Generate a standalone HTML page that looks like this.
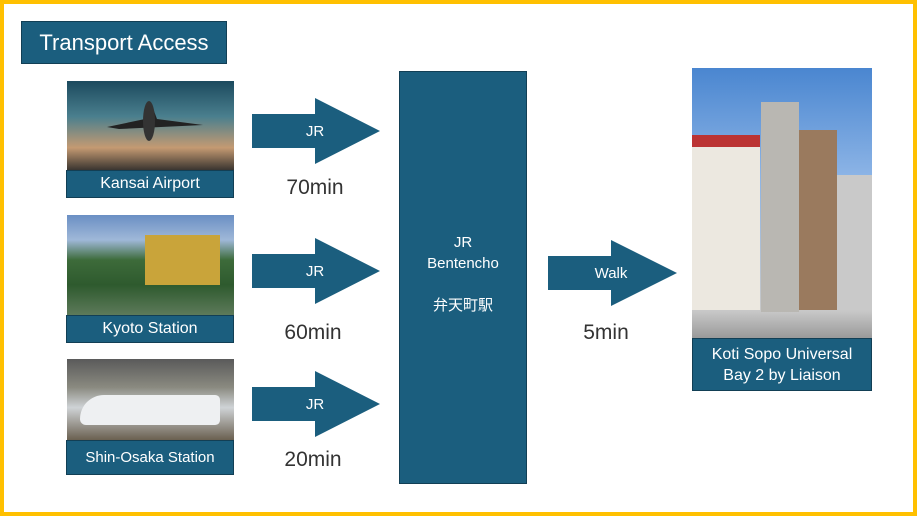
<!DOCTYPE html>
<html><head><meta charset="utf-8"><style>
*{margin:0;padding:0;box-sizing:border-box}
body{width:917px;height:516px;position:relative;background:#fff;font-family:"Liberation Sans","Noto Sans CJK JP",sans-serif;overflow:hidden}
.frame{position:absolute;left:0;top:0;width:917px;height:516px;border:4px solid #FFC000}
.b{position:absolute;background:#1b5e7e;color:#fff;display:flex;align-items:center;justify-content:center;text-align:center;border:1px solid #123f55}
.img{position:absolute}
.t{position:absolute;font-size:21px;color:#333;transform:translateX(-50%)}
svg{position:absolute}
</style></head><body>
<div class="frame"></div>
<div class="b" style="left:21px;top:21px;width:206px;height:43px;font-size:22px">Transport Access</div>

<div class="img" style="left:67px;top:81px;width:167px;height:89px;background:linear-gradient(180deg,#1c4a5e 0%,#4a7f8e 40%,#c49a72 75%,#3a3530 100%)"></div>
<svg style="left:67px;top:81px" width="167" height="89"><path d="M52 48 L136 44 L90 38 L84 22 L78 38 L40 46Z" fill="#222"/><ellipse cx="82" cy="40" rx="6" ry="20" fill="#333"/></svg>
<div class="b" style="left:66px;top:170px;width:168px;height:28px;font-size:16px">Kansai Airport</div>

<div class="img" style="left:67px;top:215px;width:167px;height:100px;background:linear-gradient(180deg,#6b8fc4 0%,#9fb8d8 25%,#3d6b3a 45%,#2e5a2e 70%,#5d7a5a 100%)"></div>
<div class="img" style="left:145px;top:235px;width:75px;height:50px;background:#c9a43a"></div>
<div class="b" style="left:66px;top:315px;width:168px;height:28px;font-size:16px">Kyoto Station</div>

<div class="img" style="left:67px;top:359px;width:167px;height:81px;background:linear-gradient(180deg,#5a5a5a 0%,#8a8a80 35%,#cfd3d6 60%,#6a6050 100%)"></div>
<div class="img" style="left:80px;top:395px;width:140px;height:30px;background:#eef0f2;border-radius:40px 8px 8px 10px"></div>
<div class="b" style="left:66px;top:440px;width:168px;height:35px;font-size:15px">Shin-Osaka Station</div>

<svg style="left:252px;top:98px" width="130" height="67"><polygon points="0,16 63,16 63,0 128,33 63,66 63,50 0,50" fill="#1b5e7e"/><text x="63" y="38" fill="#fff" font-size="15" text-anchor="middle" font-family="Liberation Sans">JR</text></svg>
<svg style="left:252px;top:238px" width="130" height="67"><polygon points="0,16 63,16 63,0 128,33 63,66 63,50 0,50" fill="#1b5e7e"/><text x="63" y="38" fill="#fff" font-size="15" text-anchor="middle" font-family="Liberation Sans">JR</text></svg>
<svg style="left:252px;top:371px" width="130" height="67"><polygon points="0,16 63,16 63,0 128,33 63,66 63,50 0,50" fill="#1b5e7e"/><text x="63" y="38" fill="#fff" font-size="15" text-anchor="middle" font-family="Liberation Sans">JR</text></svg>
<div class="t" style="left:315px;top:176px">70min</div>
<div class="t" style="left:313px;top:321px">60min</div>
<div class="t" style="left:313px;top:448px">20min</div>

<div class="b" style="left:399px;top:71px;width:128px;height:413px;display:block;font-size:15px;line-height:21px;padding-top:160px">JR<br>Bentencho<br><br>弁天町駅</div>

<svg style="left:548px;top:240px" width="131" height="67"><polygon points="0,16 63,16 63,0 129,33 63,66 63,50 0,50" fill="#1b5e7e"/><text x="63" y="38" fill="#fff" font-size="15" text-anchor="middle" font-family="Liberation Sans">Walk</text></svg>
<div class="t" style="left:606px;top:321px">5min</div>

<div class="img" style="left:692px;top:68px;width:180px;height:270px;background:linear-gradient(180deg,#4a86d0 0%,#8cb4e6 40%,#c8c8c8 90%,#9a9a9a 100%)"></div>
<div class="img" style="left:692px;top:135px;width:68px;height:175px;background:#ece8e0;border-top:12px solid #b33"></div>
<div class="img" style="left:761px;top:102px;width:38px;height:210px;background:#b9b7b2"></div>
<div class="img" style="left:799px;top:130px;width:38px;height:180px;background:#9a7a5e"></div>
<div class="img" style="left:837px;top:175px;width:35px;height:135px;background:#c9c9c9"></div>
<div class="b" style="left:692px;top:338px;width:180px;height:53px;font-size:16px;line-height:21px">Koti Sopo Universal<br>Bay 2 by Liaison</div>
</body></html>
